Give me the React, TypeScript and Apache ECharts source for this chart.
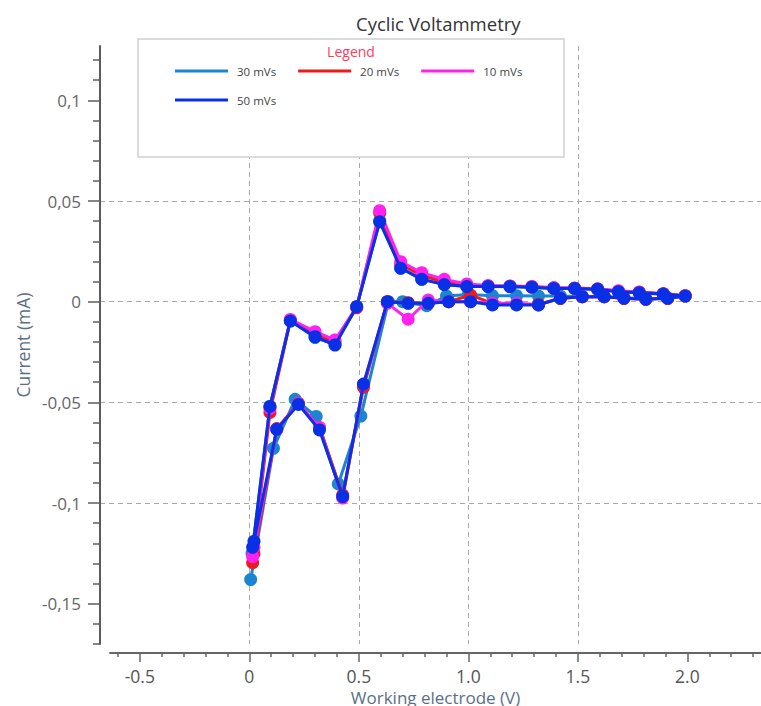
import React, { useEffect, useRef } from "react";
import * as echarts from "echarts";

// ---------- data ----------
const seriesNames = ["30 mVs", "20 mVs", "10 mVs", "50 mVs"];
const seriesColors = ["#1a86d2", "#ee1a1a", "#ff22ee", "#0a30e6"];

// forward scan (0 -> 2 V) then reverse scan (2 -> 0 V)
const potentialScan = [
  0.015, 0.094, 0.187, 0.3, 0.391, 0.49, 0.595, 0.691, 0.787, 0.89, 0.993, 1.09, 1.19, 1.29, 1.39, 1.485, 1.59, 1.685,
  1.78, 1.89, 1.99,
  1.91, 1.81, 1.71, 1.62, 1.52, 1.42, 1.32, 1.22, 1.11, 1.01, 0.91, 0.817, 0.725, 0.63, 0.521, 0.426, 0.32, 0.224,
  0.125, 0.021,
];
const potentialScan30 = [
  0.012, 0.094, 0.187, 0.3, 0.391, 0.49, 0.595, 0.691, 0.787, 0.89, 0.993, 1.09, 1.19, 1.29, 1.39, 1.485, 1.59, 1.685,
  1.78, 1.89, 1.99,
  1.91, 1.81, 1.71, 1.62, 1.52, 1.42, 1.32, 1.22, 1.11, 1.0, 0.9, 0.81, 0.7, 0.635, 0.509, 0.406, 0.305, 0.209, 0.11,
  0.006,
];

const current30 = [
  -0.125, -0.052, -0.0094, -0.0178, -0.0212, -0.0025, 0.0402, 0.0168, 0.0112, 0.0086, 0.0076, 0.0075, 0.0074, 0.0072,
  0.0066, 0.0065, 0.0061, 0.005, 0.0045, 0.0037, 0.0028,
  0.0017, 0.0015, 0.002, 0.0025, 0.0025, 0.0028, 0.0028, 0.003, 0.003, 0.0036, 0.0028, -0.002, 0.0, 0.0, -0.0568,
  -0.0905, -0.057, -0.0485, -0.0728, -0.138,
];
const current20 = [
  -0.1296, -0.055, -0.0092, -0.016, -0.02, -0.003, 0.044, 0.0185, 0.013, 0.0098, 0.0082, 0.0078, 0.0077, 0.0074,
  0.0068, 0.0067, 0.0063, 0.0052, 0.0047, 0.0039, 0.0029,
  0.0018, 0.0013, 0.0017, 0.0025, 0.0025, 0.0017, -0.0012, -0.0012, -0.0008, 0.0033, 0.0, -0.0008, -0.0005, 0.0,
  -0.0425, -0.096, -0.0625, -0.0505, -0.063, -0.125,
];
const current10 = [
  -0.1266, -0.053, -0.0088, -0.0149, -0.019, -0.0025, 0.0452, 0.0199, 0.0144, 0.0111, 0.0088, 0.008, 0.0078, 0.0076,
  0.007, 0.0068, 0.0064, 0.0054, 0.0048, 0.004, 0.003,
  0.0017, 0.0012, 0.0017, 0.0025, 0.0025, 0.0017, -0.0016, -0.0008, -0.0008, 0.0, 0.0, 0.0008, -0.0087, -0.0008,
  -0.041, -0.0975, -0.0625, -0.0505, -0.0635, -0.122,
];
const current50 = [
  -0.122, -0.052, -0.0096, -0.0174, -0.0215, -0.0025, 0.0397, 0.0166, 0.0111, 0.0085, 0.0075, 0.0075, 0.0075, 0.0072,
  0.0066, 0.0066, 0.0062, 0.005, 0.0045, 0.0038, 0.0028,
  0.0017, 0.0012, 0.0017, 0.0025, 0.0025, 0.0017, -0.0016, -0.0016, -0.0016, 0.0, 0.0, -0.0008, -0.0008, 0.0,
  -0.0409, -0.0968, -0.0637, -0.051, -0.0634, -0.119,
];

const xMajorTicks = [-0.5, 0, 0.5, 1.0, 1.5, 2.0];
const xMinorTicks = [-0.6, -0.4, -0.3, -0.2, -0.1, 0.1, 0.2, 0.3, 0.4, 0.6, 0.7, 0.8, 0.9, 1.1, 1.2, 1.3, 1.4, 1.6, 1.7, 1.8, 1.9, 2.1, 2.2, 2.3];
const yMajorTicks = [-0.15, -0.1, -0.05, 0, 0.05, 0.1];
const yMinorTicks = [-0.17, -0.16, -0.14, -0.13, -0.12, -0.11, -0.09, -0.08, -0.07, -0.06, -0.04, -0.03, -0.02, -0.01, 0.01, 0.02, 0.03, 0.04, 0.06, 0.07, 0.08, 0.09, 0.11, 0.12];

const X_MIN_PLOT = -0.682;
const X_MIN_AXIS = -0.636;
const X_MAX = 2.336;
const Y_MIN = -0.17;
const Y_MAX = 0.127;

const FONT = "'Open Sans', 'Noto Sans', sans-serif";

function pairs(v: number[], c: number[]) {
  return v.map((x, i) => [x, c[i]]);
}

export default function App() {
  const ref = useRef<HTMLDivElement>(null);

  useEffect(() => {
    if (!ref.current) return;
    const chart = echarts.init(ref.current, undefined, { renderer: "svg" });
    const grid = "#a9a9a9";
    const axisCol = "#5c5c5c";
    const nameCol = "#5b7083";

    const seriesData = [
      pairs(potentialScan30, current30),
      pairs(potentialScan, current20),
      pairs(potentialScan, current10),
      pairs(potentialScan, current50),
    ];

    chart.setOption({
      animation: false,
      backgroundColor: "#ffffff",
      title: {
        text: "Cyclic Voltammetry",
        left: 351,
        top: 9,
        textStyle: { fontFamily: FONT, fontSize: 18.5, fontWeight: "normal", color: "#333" },
      },
      graphic: [
        {
          type: "rect",
          z: 3,
          shape: { x: 138, y: 39, width: 426, height: 118 },
          style: { fill: "#ffffff", stroke: "#cfcfcf", lineWidth: 1.5 },
        },
        {
          type: "text",
          z: 4,
          x: 351,
          y: 51,
          style: {
            text: "Legend",
            fill: "#ff3b5c",
            font: `14px ${FONT}`,
            textAlign: "center",
            textVerticalAlign: "middle",
          },
        },
      ],
      legend: [
        {
          data: seriesNames.slice(0, 3),
          left: 175,
          top: 65,
          padding: 0,
          itemGap: 22,
          itemWidth: 53,
          itemHeight: 3,
          icon: "rect",
          z: 5,
          textStyle: { fontFamily: FONT, fontSize: 11.5, color: "#444", padding: [0, 0, 0, 4] },
        },
        {
          data: seriesNames.slice(3),
          left: 175,
          top: 94,
          padding: 0,
          itemWidth: 53,
          itemHeight: 3,
          icon: "rect",
          z: 5,
          textStyle: { fontFamily: FONT, fontSize: 11.5, color: "#444", padding: [0, 0, 0, 4] },
        },
      ],
      grid: [
        { left: 100, right: 0, top: 46, bottom: 62, containLabel: false, outerBoundsMode: "none" },
        { left: 110, right: 0, top: 46, bottom: 53, containLabel: false, outerBoundsMode: "none" },
      ],
      xAxis: [
        {
          type: "value",
          gridIndex: 0,
          min: X_MIN_PLOT,
          max: X_MAX,
          axisLine: { show: false, onZero: false },
          axisTick: { show: false, customValues: xMajorTicks },
          axisLabel: { show: false, customValues: xMajorTicks },
          splitLine: {
            show: true,
            showMinLine: false,
            showMaxLine: false,
            lineStyle: { color: grid, type: [5, 4], width: 1 },
          },
        },
        {
          type: "value",
          gridIndex: 1,
          position: "bottom",
          min: X_MIN_AXIS,
          max: X_MAX,
          axisLine: { show: true, onZero: false, lineStyle: { color: "#666", width: 2 } },
          axisTick: { show: true, customValues: xMajorTicks, length: 9, lineStyle: { color: "#666", width: 1.5 } },
          axisLabel: {
            show: true,
            customValues: xMajorTicks,
            margin: 13,
            fontFamily: FONT,
            fontSize: 17.5,
            lineHeight: 20,
            color: "#555",
            formatter: (v: number) => (v === 0 ? "0" : v.toFixed(1)),
          },
          splitLine: { show: false },
          name: "Working electrode (V)",
          nameLocation: "middle",
          nameMoveOverlap: false,
          nameGap: 35,
          nameTextStyle: { fontFamily: FONT, fontSize: 17, color: nameCol, lineHeight: 18 },
        },
        {
          type: "value",
          gridIndex: 1,
          position: "bottom",
          min: X_MIN_AXIS,
          max: X_MAX,
          axisLine: { show: false, onZero: false },
          axisTick: { show: true, customValues: xMinorTicks, length: 4, lineStyle: { color: "#666", width: 1.5 } },
          axisLabel: { show: false, customValues: xMinorTicks },
          splitLine: { show: false },
        },
      ],
      yAxis: [
        {
          type: "value",
          gridIndex: 0,
          position: "left",
          min: Y_MIN,
          max: Y_MAX,
          axisLine: { show: true, onZero: false, lineStyle: { color: axisCol, width: 2 } },
          axisTick: { show: true, customValues: yMajorTicks, length: 12, lineStyle: { color: axisCol, width: 1.5 } },
          axisLabel: {
            show: true,
            customValues: yMajorTicks,
            margin: 19,
            fontFamily: FONT,
            fontSize: 17,
            color: "#666",
            formatter: (v: number) => String(Math.round(v * 1000) / 1000).replace(".", ","),
          },
          splitLine: {
            show: true,
            showMinLine: false,
            showMaxLine: false,
            lineStyle: { color: grid, type: [5, 4], width: 1 },
          },
          name: "Current (mA)",
          nameLocation: "middle",
          nameMoveOverlap: false,
          nameGap: 68,
          nameTextStyle: { fontFamily: FONT, fontSize: 17.5, color: nameCol },
        },
        {
          type: "value",
          gridIndex: 0,
          position: "left",
          min: Y_MIN,
          max: Y_MAX,
          axisLine: { show: false, onZero: false },
          axisTick: { show: true, customValues: yMinorTicks, length: 7, lineStyle: { color: axisCol, width: 1.5 } },
          axisLabel: { show: false, customValues: yMinorTicks },
          splitLine: { show: false },
        },
        {
          type: "value",
          gridIndex: 1,
          min: Y_MIN,
          max: Y_MAX,
          show: false,
          axisLine: { onZero: false },
        },
      ],
      series: seriesNames.map((name, i) => ({
        name,
        type: "line",
        xAxisIndex: 0,
        yAxisIndex: 0,
        data: seriesData[i],
        color: seriesColors[i],
        symbol: "circle",
        symbolSize: 13,
        showAllSymbol: true,
        lineStyle: { width: 3, color: seriesColors[i] },
        itemStyle: { color: seriesColors[i] },
        z: 2 + i,
      })),
    });

    return () => chart.dispose();
  }, []);

  return (
    <div
      ref={ref}
      style={{ position: "absolute", left: 0, top: 0, width: 761, height: 706, background: "#fff" }}
    />
  );
}
